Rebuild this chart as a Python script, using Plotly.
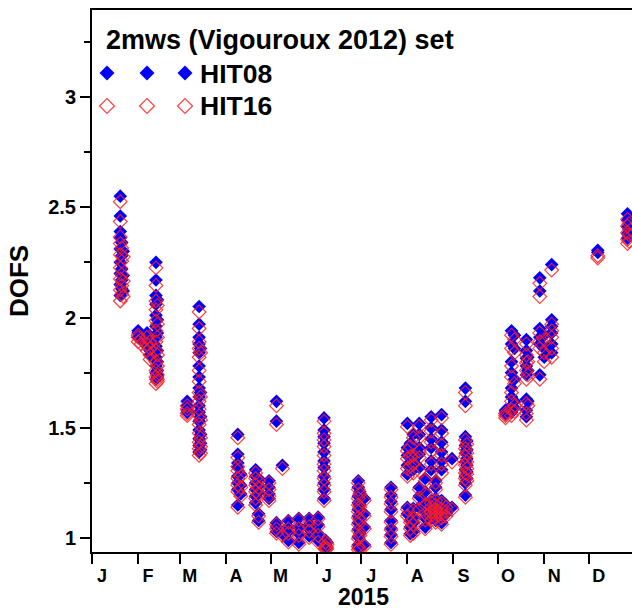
import plotly.graph_objects as go

# Observation days (2015) and DOFS retrieved with the two spectroscopic databases
obs_dates = [
    "2015-01-20", "2015-01-21", "2015-01-22",
    "2015-02-01", "2015-02-03", "2015-02-07", "2015-02-09", "2015-02-13", "2015-02-14",
    "2015-03-06", "2015-03-14", "2015-03-15",
    "2015-04-09", "2015-04-11", "2015-04-21", "2015-04-23", "2015-04-30",
    "2015-05-05", "2015-05-09", "2015-05-13", "2015-05-20", "2015-05-27",
    "2015-06-02", "2015-06-06", "2015-06-07", "2015-06-08", "2015-06-29", "2015-06-30",
    "2015-07-03", "2015-07-21",
    "2015-08-01", "2015-08-03", "2015-08-05", "2015-08-09", "2015-08-13", "2015-08-17",
    "2015-08-20", "2015-08-24", "2015-08-27", "2015-08-31",
    "2015-09-09", "2015-09-10",
    "2015-10-06", "2015-10-10", "2015-10-12", "2015-10-20", "2015-10-21", "2015-10-29",
    "2015-11-01", "2015-11-06",
    "2015-12-07", "2015-12-27", "2015-12-28",
]

hit08 = [
    [2.55, 2.46, 2.39, 2.36, 2.31, 2.25, 2.20, 2.15, 2.10],
    [2.34, 2.28, 2.22, 2.17, 2.13],
    [2.30, 2.19, 2.12],
    [1.94, 1.93, 1.91],
    [1.92, 1.90],
    [1.93, 1.90, 1.87],
    [1.91, 1.88, 1.85, 1.83],
    [2.25, 2.17, 2.10, 2.06, 2.01, 1.96, 1.91, 1.87, 1.82, 1.78, 1.75, 1.72],
    [2.08, 1.99, 1.93, 1.85, 1.80, 1.76, 1.74, 1.73],
    [1.62, 1.60, 1.58, 1.57],
    [2.05, 1.97, 1.91, 1.88, 1.84, 1.78, 1.73, 1.68, 1.64, 1.60, 1.57, 1.53, 1.49, 1.45, 1.42, 1.39],
    [1.86, 1.66, 1.55, 1.47, 1.43, 1.40],
    [1.47, 1.38, 1.34, 1.32, 1.28, 1.25, 1.22, 1.15],
    [1.29, 1.24, 1.20],
    [1.31, 1.28, 1.25, 1.22, 1.19, 1.16],
    [1.27, 1.24, 1.21, 1.11, 1.08],
    [1.26, 1.23, 1.20, 1.18],
    [1.62, 1.53, 1.07, 1.05, 1.03],
    [1.33, 1.02],
    [1.08, 1.05, 1.03, 0.99],
    [1.09, 1.05, 1.02, 0.98],
    [1.09, 1.06, 1.04, 1.01],
    [1.095, 1.06, 1.02, 0.99],
    [1.545, 1.49, 1.46, 1.43, 1.39, 1.35, 1.32, 1.28, 1.25, 1.22, 1.18],
    [0.99, 0.97, 0.96, 0.955],
    [0.98, 0.96],
    [1.26, 1.23, 1.19, 1.16, 1.13, 1.10, 1.07, 1.04, 1.005, 0.97, 0.955],
    [1.21, 1.15, 1.09, 1.02, 0.96],
    [1.18, 1.11, 1.05, 0.97],
    [1.23, 1.195, 1.165, 1.13, 1.08, 1.045, 1.015, 0.98],
    [1.52, 1.41, 1.375, 1.33, 1.29, 1.14, 1.11],
    [1.43, 1.385, 1.34, 1.08, 1.05, 1.02],
    [1.47, 1.39, 1.35, 1.31, 1.135, 1.095, 1.07, 1.03],
    [1.52, 1.47, 1.41, 1.38, 1.32, 1.23, 1.19, 1.14],
    [1.27, 1.21, 1.16, 1.12, 1.09, 1.05],
    [1.55, 1.50, 1.45, 1.41, 1.35, 1.31, 1.17, 1.15, 1.13, 1.11, 1.09],
    [1.26, 1.23, 1.18, 1.16, 1.14, 1.12, 1.10, 1.08],
    [1.56, 1.49, 1.435, 1.39, 1.35, 1.31, 1.17, 1.14, 1.12, 1.10, 1.07],
    [1.15, 1.13, 1.11],
    [1.36, 1.14],
    [1.68, 1.62, 1.46, 1.42, 1.385, 1.345, 1.31, 1.28, 1.25, 1.195],
    [1.44, 1.40, 1.36, 1.33, 1.30, 1.27],
    [1.58, 1.57, 1.56],
    [1.94, 1.88, 1.80, 1.75, 1.68, 1.64, 1.60, 1.57],
    [1.92, 1.86, 1.72, 1.62, 1.59],
    [1.90, 1.85, 1.815, 1.78, 1.74, 1.63, 1.58, 1.55],
    [1.82, 1.76, 1.62],
    [2.18, 2.12, 1.95, 1.91, 1.88, 1.74],
    [1.92, 1.86, 1.82],
    [2.24, 1.99, 1.96, 1.93, 1.88, 1.84],
    [2.305, 2.295],
    [2.47, 2.44, 2.41, 2.38, 2.36],
    [2.45, 2.40, 2.37],
]

hit16 = [
    [2.525, 2.435, 2.365, 2.335, 2.285, 2.225, 2.175, 2.125, 2.075],
    [2.315, 2.255, 2.195, 2.145, 2.105],
    [2.275, 2.165, 2.095],
    [1.92, 1.91, 1.89],
    [1.90, 1.88],
    [1.91, 1.88, 1.85],
    [1.89, 1.86, 1.83, 1.81],
    [2.225, 2.145, 2.075, 2.035, 1.985, 1.94, 1.89, 1.85, 1.80, 1.76, 1.73, 1.70],
    [2.055, 1.97, 1.91, 1.83, 1.78, 1.74, 1.72, 1.71],
    [1.60, 1.585, 1.565, 1.555],
    [2.025, 1.95, 1.89, 1.86, 1.82, 1.76, 1.71, 1.66, 1.62, 1.585, 1.555, 1.515, 1.475, 1.435, 1.405, 1.375],
    [1.84, 1.64, 1.535, 1.455, 1.415, 1.385],
    [1.455, 1.365, 1.325, 1.305, 1.27, 1.24, 1.21, 1.14],
    [1.28, 1.23, 1.19],
    [1.295, 1.27, 1.24, 1.21, 1.18, 1.15],
    [1.26, 1.23, 1.20, 1.10, 1.072],
    [1.25, 1.22, 1.19, 1.17],
    [1.60, 1.515, 1.062, 1.042, 1.022],
    [1.315, 1.012],
    [1.072, 1.042, 1.022, 0.982],
    [1.082, 1.042, 1.012, 0.972],
    [1.082, 1.052, 1.032, 1.002],
    [1.087, 1.052, 1.012, 0.982],
    [1.53, 1.475, 1.445, 1.415, 1.375, 1.335, 1.305, 1.27, 1.24, 1.21, 1.17],
    [0.982, 0.962, 0.952, 0.947],
    [0.972, 0.952],
    [1.25, 1.22, 1.18, 1.15, 1.12, 1.092, 1.062, 1.032, 0.997, 0.962, 0.947],
    [1.20, 1.14, 1.082, 1.012, 0.952],
    [1.17, 1.10, 1.042, 0.962],
    [1.22, 1.185, 1.155, 1.12, 1.072, 1.037, 1.007, 0.972],
    [1.505, 1.395, 1.36, 1.315, 1.28, 1.13, 1.10],
    [1.415, 1.37, 1.325, 1.072, 1.042, 1.012],
    [1.455, 1.375, 1.335, 1.295, 1.125, 1.087, 1.062, 1.022],
    [1.505, 1.455, 1.395, 1.365, 1.305, 1.22, 1.18, 1.13],
    [1.26, 1.20, 1.15, 1.11, 1.082, 1.042],
    [1.535, 1.485, 1.435, 1.395, 1.335, 1.295, 1.16, 1.14, 1.12, 1.10, 1.082],
    [1.25, 1.22, 1.17, 1.15, 1.13, 1.11, 1.092, 1.072],
    [1.545, 1.475, 1.42, 1.375, 1.335, 1.295, 1.16, 1.13, 1.11, 1.092, 1.062],
    [1.14, 1.12, 1.10],
    [1.345, 1.13],
    [1.66, 1.60, 1.445, 1.405, 1.37, 1.33, 1.295, 1.27, 1.24, 1.185],
    [1.425, 1.385, 1.345, 1.315, 1.29, 1.26],
    [1.565, 1.555, 1.545],
    [1.92, 1.86, 1.78, 1.73, 1.66, 1.62, 1.58, 1.555],
    [1.90, 1.84, 1.70, 1.60, 1.575],
    [1.88, 1.83, 1.795, 1.76, 1.72, 1.61, 1.565, 1.535],
    [1.80, 1.74, 1.60],
    [2.155, 2.095, 1.93, 1.89, 1.86, 1.72],
    [1.90, 1.84, 1.80],
    [2.215, 1.97, 1.94, 1.91, 1.86, 1.82],
    [2.28, 2.27],
    [2.445, 2.415, 2.385, 2.355, 2.335],
    [2.425, 2.375, 2.345],
]

month_starts = ["2015-%02d-01" % m for m in range(1, 13)]
month_labels = ["J", "F", "M", "A", "M", "J", "J", "A", "S", "O", "N", "D"]
y_ticks = [1, 1.5, 2, 2.5, 3]
y_tick_labels = ["1", "1.5", "2", "2.5", "3"]


def flatten(dates, groups):
    xs, ys = [], []
    for d, vals in zip(dates, groups):
        for v in vals:
            xs.append(d)
            ys.append(v)
    return xs, ys


x08, y08 = flatten(obs_dates, hit08)
x16, y16 = flatten(obs_dates, hit16)

FONT = "Liberation Sans, Arial, sans-serif"
BLUE = "#0000ff"
RED = "rgba(255,30,30,0.85)"
MSIZE = 10.5

fig = go.Figure()
fig.add_trace(go.Scatter(
    x=x08, y=y08, mode="markers", name="HIT08",
    marker=dict(symbol="diamond", size=MSIZE, color=BLUE, line=dict(width=0)),
))
fig.add_trace(go.Scatter(
    x=x16, y=y16, mode="markers", name="HIT16",
    marker=dict(symbol="diamond-open", size=MSIZE, color=RED, line=dict(width=1.2)),
))

# Legend block placed in pixel space on an overlay axis pair
L = 92
R = 632
T = 10
B = 552
leg_x = [107, 147, 185]
fig.add_trace(go.Scatter(
    x=leg_x, y=[73] * 3, xaxis="x2", yaxis="y2", mode="markers", showlegend=False,
    hoverinfo="skip",
    marker=dict(symbol="diamond", size=11.5, color=BLUE, line=dict(width=0)),
))
fig.add_trace(go.Scatter(
    x=leg_x, y=[106] * 3, xaxis="x2", yaxis="y2", mode="markers", showlegend=False,
    hoverinfo="skip",
    marker=dict(symbol="diamond-open", size=11.5, color=RED, line=dict(width=1.2)),
))

annotations = [
    dict(x=104, y=40, text="2mws (Vigouroux 2012) set", size=27),
    dict(x=198, y=74, text="HIT08", size=26.5),
    dict(x=198, y=106, text="HIT16", size=26.5),
]
for a in annotations:
    sz = a.pop("size")
    a.update(xref="x2", yref="y2", xanchor="left", yanchor="middle", showarrow=False,
             font=dict(family=FONT, size=sz, color="black", weight="bold"))

# x-axis caption, anchored to the bottom edge of the figure
cap_x = ((L + 634) / 2 - L) / (R - L)
cap_y = (B - 611) / (B - T)
annotations.append(dict(
    x=cap_x, y=cap_y, xref="paper", yref="paper", xanchor="center", yanchor="bottom",
    showarrow=False, text="2015", borderpad=0,
    font=dict(family=FONT, size=23, color="black", weight="bold"),
))

fig.update_layout(
    width=632, height=611,
    margin=dict(l=L, r=0, t=T, b=611 - B),
    paper_bgcolor="white", plot_bgcolor="white",
    showlegend=False,
    annotations=annotations,
    xaxis=dict(
        type="date",
        range=["2015-01-01", "2015-12-30"],
        tickvals=month_starts, ticktext=month_labels,
        ticks="outside", ticklen=10, tickwidth=2, tickcolor="black",
        ticklabelshift=10, ticklabelstandoff=-4,
        tickfont=dict(family=FONT, size=18, color="black", weight="bold"),
        showline=True, linewidth=2, linecolor="black", mirror=True,
        showgrid=False, zeroline=False,
    ),
    yaxis=dict(
        range=[0.937, 3.394],
        tickvals=y_ticks, ticktext=y_tick_labels,
        ticks="outside", ticklen=10, tickwidth=2, tickcolor="black",
        tickfont=dict(family=FONT, size=20, color="black", weight="bold"),
        minor=dict(dtick=0.25, tick0=0.75, ticks="outside", ticklen=6, tickwidth=2,
                   tickcolor="black", showgrid=False),
        showline=True, linewidth=2, linecolor="black",
        showgrid=False, zeroline=False,
        title=dict(text="DOFS", standoff=12,
                   font=dict(family=FONT, size=26, color="black", weight="bold")),
    ),
    xaxis2=dict(overlaying="x", range=[L, R], visible=False, fixedrange=True),
    yaxis2=dict(overlaying="y", range=[B, T], visible=False, fixedrange=True),
)

fig.write_html("out.html")
